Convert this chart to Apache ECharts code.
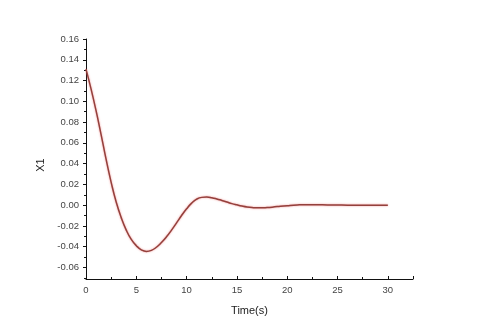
<!DOCTYPE html>
<html><head><meta charset="utf-8">
<script src="https://cdn.jsdelivr.net/npm/echarts@6/dist/echarts.min.js"></script>
<style>html,body{margin:0;padding:0;background:#fff;}#c{width:480px;height:335px;}</style>
</head><body><div id="c"></div>
<script>
const timeValues = [0,0.5,1,1.5,2,2.5,3,3.5,4,4.5,5,5.5,6,6.5,7,7.5,8,8.5,9,9.5,10,10.5,11,11.5,12,12.5,13,13.5,14,14.5,15,15.5,16,16.5,17,17.5,18,18.5,19,20,21,22,23,24,25,26,27,28,29,30];
const x1Values = [0.131,0.112,0.091,0.068,0.044,0.022,0.003,-0.012,-0.024,-0.033,-0.039,-0.043,-0.0445,-0.0435,-0.0405,-0.036,-0.0305,-0.024,-0.017,-0.010,-0.0035,0.002,0.0058,0.0075,0.0078,0.0072,0.006,0.0045,0.003,0.0015,0.0003,-0.0008,-0.0017,-0.0023,-0.0026,-0.0026,-0.0023,-0.0019,-0.0014,-0.0005,0.0002,0.0005,0.0004,0.0002,0.0001,0,0,0,0,0];
const yMajorTicks = [-0.06,-0.04,-0.02,0,0.02,0.04,0.06,0.08,0.10,0.12,0.14,0.16];
const yMinorTicks = [-0.07,-0.05,-0.03,-0.01,0.01,0.03,0.05,0.07,0.09,0.11,0.13,0.15];
const xName = 'Time(s)';
const yName = 'X1';

const chart = echarts.init(document.getElementById('c'));
const font = 'Liberation Sans, Arial, sans-serif';
const yMin = -0.0711, yMax = 0.16;
chart.setOption({
  backgroundColor: '#fff',
  animation: false,
  grid: {left: 86, right: 67, top: 39, bottom: 56},
  xAxis: {
    type: 'value', min: 0, max: 32.5, interval: 5,
    name: xName, nameLocation: 'middle', nameGap: 26,
    nameTextStyle: {fontFamily: font, fontSize: 11, color: '#222'},
    axisLine: {onZero: false, lineStyle: {color: '#111', width: 1}},
    axisTick: {inside: true, length: 3, lineStyle: {color: '#111'}},
    minorTick: {show: true, splitNumber: 2, length: 2, lineStyle: {color: '#111'}},
    axisLabel: {fontFamily: font, fontSize: 9.5, color: '#444', margin: 6,
      formatter: v => (v > 30 ? '' : String(v))},
    splitLine: {show: false}
  },
  yAxis: [{
    type: 'value', min: yMin, max: yMax,
    name: yName, nameLocation: 'middle', nameGap: 37,
    nameTextStyle: {fontFamily: font, fontSize: 11, color: '#222', padding: [0, 0, 0, -12]},
    axisLine: {show: true, onZero: false, lineStyle: {color: '#111', width: 1}},
    axisTick: {show: true, length: 3, customValues: yMajorTicks, lineStyle: {color: '#111'}},
    axisLabel: {fontFamily: font, fontSize: 9.5, color: '#444', margin: 7,
      customValues: yMajorTicks, formatter: v => v.toFixed(2)},
    splitLine: {show: false}
  }, {
    type: 'value', min: yMin, max: yMax, position: 'left', offset: 0,
    axisLine: {show: false},
    axisTick: {show: true, length: 2, customValues: yMinorTicks, lineStyle: {color: '#111'}},
    axisLabel: {show: false},
    splitLine: {show: false}
  }],
  series: [{
    type: 'line', yAxisIndex: 0, smooth: true, symbol: 'none',
    data: timeValues.map((t, i) => [t, x1Values[i]]),
    lineStyle: {color: '#94403c', width: 1.5, shadowColor: 'rgba(230,70,70,0.6)', shadowBlur: 2}
  }]
});
</script></body></html>
